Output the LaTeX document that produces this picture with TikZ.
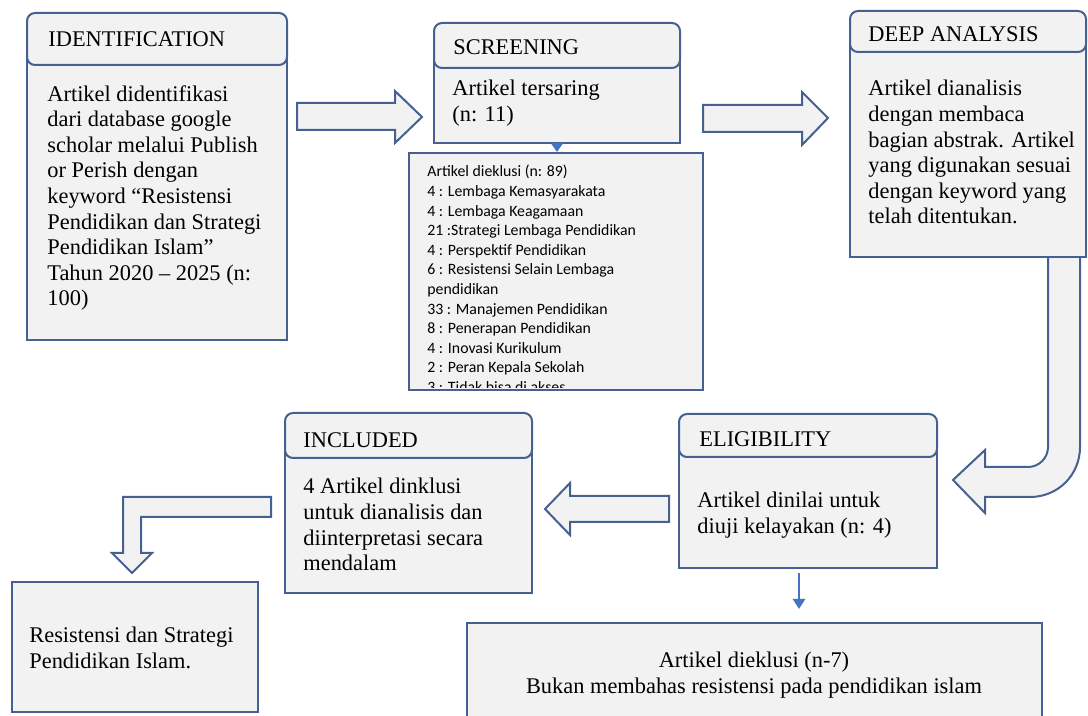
\documentclass[tikz,border=0pt]{standalone}
\usepackage{fontspec}
\setmainfont{Liberation Serif}
\newfontfamily\listfont{Carlito}
\usetikzlibrary{fit,arrows.meta}
\definecolor{boxline}{RGB}{70,96,146}
\definecolor{boxfill}{RGB}{242,242,242}
\definecolor{arrowblue}{RGB}{68,114,196}

\begin{document}
\begin{tikzpicture}[x=0.5pt, y=-0.5pt, >=latex]

\tikzstyle{body}=[draw=boxline, fill=boxfill, line width=1pt, inner sep=0pt]
\tikzstyle{head}=[body, rounded corners=4pt]
\tikzstyle{txt}=[inner sep=0pt, align=left, font=\fontsize{11.2}{12.8}\selectfont]
\tikzstyle{listtxt}=[inner sep=0pt, align=left, font=\listfont\fontsize{7.9}{9.8}\selectfont]
\tikzstyle{bigarrow}=[draw=boxline, fill=boxfill, line width=1pt, line join=miter]
\tikzstyle{thinarrow}=[draw=arrowblue, line width=1.2pt, -{Triangle[length=5pt, width=6pt]}]

\clip (0,0) rectangle (1088,716);

% Identification
\node[body, fit={(27,55) (287,340)}] (idb) {};
\node[head, fit={(27,13) (287,65)}] (idh) {};
\node[txt, anchor=base west] (idht) at (48,47) {IDENTIFICATION};
\node[txt, anchor=north west] (idbt) at (47,85) {Artikel didentifikasi\\dari database google\\scholar melalui Publish\\or Perish dengan\\keyword “Resistensi\\Pendidikan dan Strategi\\Pendidikan Islam”\\Tahun 2020 – 2025 (n:\\100)};

% Screening
\node[body, fit={(434,60) (680,143)}] (scb) {};
\node[head, fit={(434,23) (680,68)}] (sch) {};
\node[txt, anchor=base west] (scht) at (453,55) {SCREENING};
\node[txt, anchor=north west] (scbt) at (452,80) {Artikel tersaring\\(n: 11)};

% Excluded list
\node[body, fit={(409,153) (703,390)}] (exl) {};
\begin{scope}
\clip (410,154) rectangle (702,388);
\node[listtxt, anchor=north west] (exlt) at (427,165) {Artikel dieklusi (n: 89)\\4 : Lembaga Kemasyarakata\\4 : Lembaga Keagamaan\\21 :Strategi Lembaga Pendidikan\\4 : Perspektif Pendidikan\\6 : Resistensi Selain Lembaga\\pendidikan\\33 : Manajemen Pendidikan\\8 : Penerapan Pendidikan\\4 : Inovasi Kurikulum\\2 : Peran Kepala Sekolah\\3 : Tidak bisa di akses};
\end{scope}
\draw[thinarrow, line width=1pt, -{Triangle[length=4.5pt, width=6pt]}] (scb.south) -- (scb.south |- exl.north);

% Deep analysis
\draw[bigarrow] (1048,255) -- (1048,447) .. controls (1048,458) and (1039,467) .. (1028,467)
  -- (985,467) -- (985,450) -- (953,480) -- (985,513) -- (985,497) -- (1030,497)
  .. controls (1058,497) and (1080,475) .. (1080,447) -- (1080,255) -- cycle;
\node[body, fit={(850,45) (1086,257)}] (dab) {};
\node[head, fit={(850,11) (1086,52)}] (dah) {};
\node[txt, anchor=base west] (daht) at (868,42) {DEEP ANALYSIS};
\node[txt, anchor=north west] (dabt) at (868,80) {Artikel dianalisis\\dengan membaca\\bagian abstrak. Artikel\\yang digunakan sesuai\\dengan keyword yang\\telah ditentukan.};

% Eligibility
\node[body, fit={(679,450) (937,568)}] (elb) {};
\node[head, fit={(679,414) (937,457)}] (elh) {};
\node[txt, anchor=base west] (elht) at (699,447) {ELIGIBILITY};
\node[txt, anchor=north west] (elbt) at (697,492) {Artikel dinilai untuk\\diuji kelayakan (n: 4)};

% Included
\node[body, fit={(285,450) (532,593)}] (inb) {};
\node[head, fit={(285,413) (532,458)}] (inh) {};
\node[txt, anchor=base west] (inht) at (303,448) {INCLUDED};
\node[txt, anchor=north west] (inbt) at (303,478) {4 Artikel dinklusi\\untuk dianalisis dan\\diinterpretasi secara\\mendalam};

% Result
\node[body, fit={(12,582) (258,712)}] (res) {};
\node[txt, anchor=north west] (rest) at (29,627) {Resistensi dan Strategi\\Pendidikan Islam.};

% Excluded after eligibility
\node[body, fit={(467,623) (1042,760)}] (exb) {};
\node[txt, align=center, anchor=north] (exbt) at (754,652) {Artikel dieklusi (n-7)\\Bukan membahas resistensi pada pendidikan islam};

% Block arrows
\draw[bigarrow] (297,103) -- (395,103) -- (395,91) -- (422,117) -- (395,143) -- (395,130) -- (297,130) -- cycle;
\draw[bigarrow] (703,105) -- (802,105) -- (802,92) -- (828,118) -- (802,145) -- (802,132) -- (703,132) -- cycle;
\draw[bigarrow] (669,496) -- (570,496) -- (570,483) -- (545,509) -- (570,535) -- (570,522) -- (669,522) -- cycle;
\draw[bigarrow] (271,497) -- (123,497) -- (123,553) -- (112,553) -- (132,573) -- (152,553) -- (141,553) -- (141,517) -- (271,517) -- cycle;

\coordinate (ela) at (799,573);
\draw[thinarrow, shorten >=6.5pt] (ela) -- (ela |- exb.north);

\end{tikzpicture}
\end{document}
